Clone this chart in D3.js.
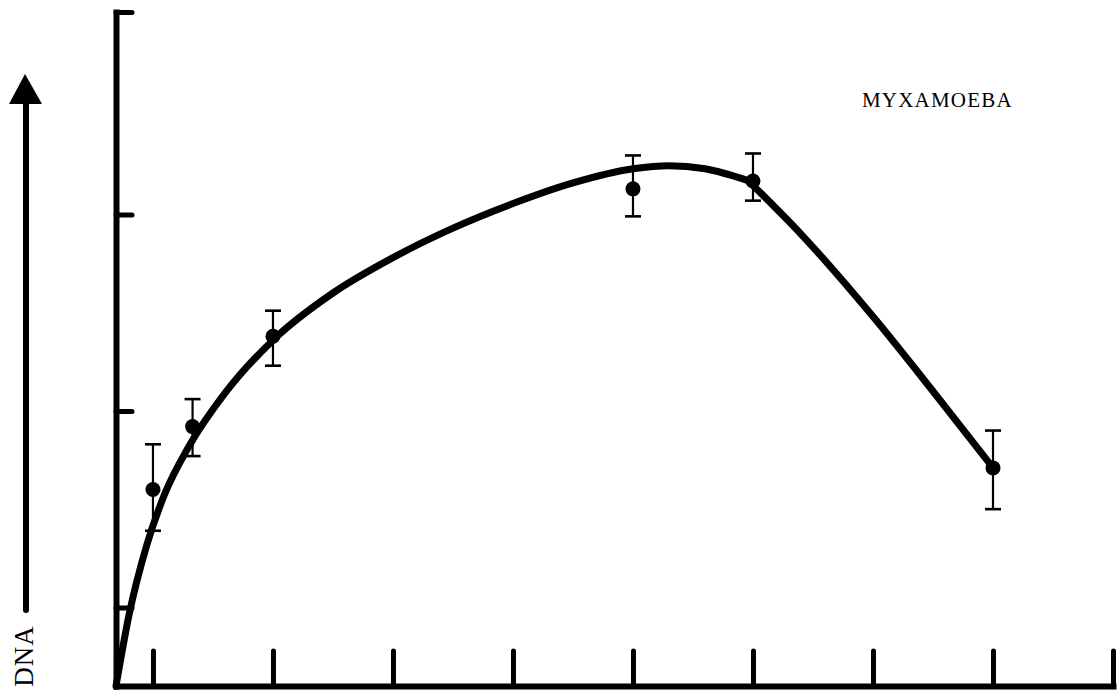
<!DOCTYPE html>
<html>
<head>
<meta charset="utf-8">
<script src="https://cdn.jsdelivr.net/npm/d3@7/dist/d3.min.js"></script>
<style>
  html, body { margin: 0; padding: 0; background: #fff; }
  svg { display: block; }
  text { font-family: "Liberation Serif", "DejaVu Serif", serif; fill: #000; }
</style>
</head>
<body>
<svg id="chart" width="1118" height="694"></svg>
<script>
// ---- data (arbitrary units) ----
const title = "MYXAMOEBA";
const yLabel = "DNA";
const xTicks = [1, 2, 3, 4, 5, 6, 7, 8, 9];
const yTicks = [0.4, 1.4, 2.4, 3.43];
const pointX = [1, 1.33, 2, 5, 6, 8];
const pointY = [1.00, 1.32, 1.78, 2.53, 2.57, 1.11];
const errLow = [0.79, 1.17, 1.63, 2.39, 2.47, 0.90];
const errHigh = [1.23, 1.46, 1.91, 2.70, 2.71, 1.30];
// fitted curve: rising branch and falling branch
const riseX = [0.692, 0.8, 0.95, 1.1, 1.3, 1.6, 2.0, 2.5, 3.0, 3.5, 4.0, 4.5, 5.0, 5.3, 5.6, 5.96];
const riseY = [0, 0.36, 0.72, 0.98, 1.22, 1.49, 1.76, 2.0, 2.18, 2.33, 2.455, 2.56, 2.632, 2.648, 2.632, 2.572];
const fallX = [5.96, 6.4, 7.0, 7.5, 7.975];
const fallY = [2.572, 2.30, 1.88, 1.50, 1.13];

(function () {
// ---- layout ----
const svg = d3.select("#chart");
const mLeft = 116, mRight = 1113, mTop = 12, mBottom = 686;
const x = d3.scaleLinear().domain([0.692, 9]).range([mLeft, mRight]);
const y = d3.scaleLinear().domain([0, 3.43]).range([mBottom, mTop]);

// axes
const xAxis = svg.append("g").attr("transform", `translate(0,${mBottom})`)
  .call(d3.axisBottom(x).tickValues(xTicks).tickSize(-35).tickSizeOuter(0).tickFormat(""));
const yAxis = svg.append("g").attr("transform", `translate(${mLeft},0)`)
  .call(d3.axisLeft(y).tickValues(yTicks).tickSize(-16).tickSizeOuter(0).tickFormat(""));
[xAxis, yAxis].forEach(g => {
  g.select(".domain").attr("stroke", "#000").attr("stroke-width", 6).attr("stroke-linecap", "square");
  g.selectAll(".tick line").attr("stroke", "#000").attr("stroke-width", 5).attr("stroke-linecap", "round");
});

// curve
const line = d3.line().x(d => x(d[0])).y(d => y(d[1])).curve(d3.curveMonotoneX);
[[riseX, riseY], [fallX, fallY]].forEach(([xs, ys]) => {
  svg.append("path")
    .datum(xs.map((v, i) => [v, ys[i]]))
    .attr("fill", "none")
    .attr("stroke", "#000")
    .attr("stroke-width", 7)
    .attr("stroke-linecap", "round")
    .attr("stroke-linejoin", "round")
    .attr("d", line);
});

// error bars + points
const pts = pointX.map((v, i) => ({x: v, y: pointY[i], lo: errLow[i], hi: errHigh[i]}));
const eb = svg.append("g");
eb.selectAll("line.v").data(pts).join("line").attr("class", "v")
  .attr("x1", d => x(d.x)).attr("x2", d => x(d.x))
  .attr("y1", d => y(d.lo)).attr("y2", d => y(d.hi))
  .attr("stroke", "#000").attr("stroke-width", 2.2);
eb.selectAll("line.t").data(pts).join("line").attr("class", "t")
  .attr("x1", d => x(d.x) - 8).attr("x2", d => x(d.x) + 8)
  .attr("y1", d => y(d.hi)).attr("y2", d => y(d.hi))
  .attr("stroke", "#000").attr("stroke-width", 2.6);
eb.selectAll("line.b").data(pts).join("line").attr("class", "b")
  .attr("x1", d => x(d.x) - 8).attr("x2", d => x(d.x) + 8)
  .attr("y1", d => y(d.lo)).attr("y2", d => y(d.lo))
  .attr("stroke", "#000").attr("stroke-width", 2.6);
svg.append("g").selectAll("circle").data(pts).join("circle")
  .attr("cx", d => x(d.x)).attr("cy", d => y(d.y)).attr("r", 7.5).attr("fill", "#000");

// title
svg.append("text").attr("x", 862).attr("y", 107)
  .attr("font-size", 21).attr("letter-spacing", 1.2).text(title);

// y label with arrow
svg.append("line").attr("x1", 26).attr("x2", 26).attr("y1", 610).attr("y2", 100)
  .attr("stroke", "#000").attr("stroke-width", 6).attr("stroke-linecap", "round");
svg.append("path").attr("d", "M25,74 L42,104 L9,104 Z").attr("fill", "#000");
svg.append("text")
  .attr("transform", "translate(33,656) rotate(-90)")
  .attr("text-anchor", "middle")
  .attr("font-size", 27)
  .attr("letter-spacing", 1)
  .text(yLabel);
})();
</script>
</body>
</html>
